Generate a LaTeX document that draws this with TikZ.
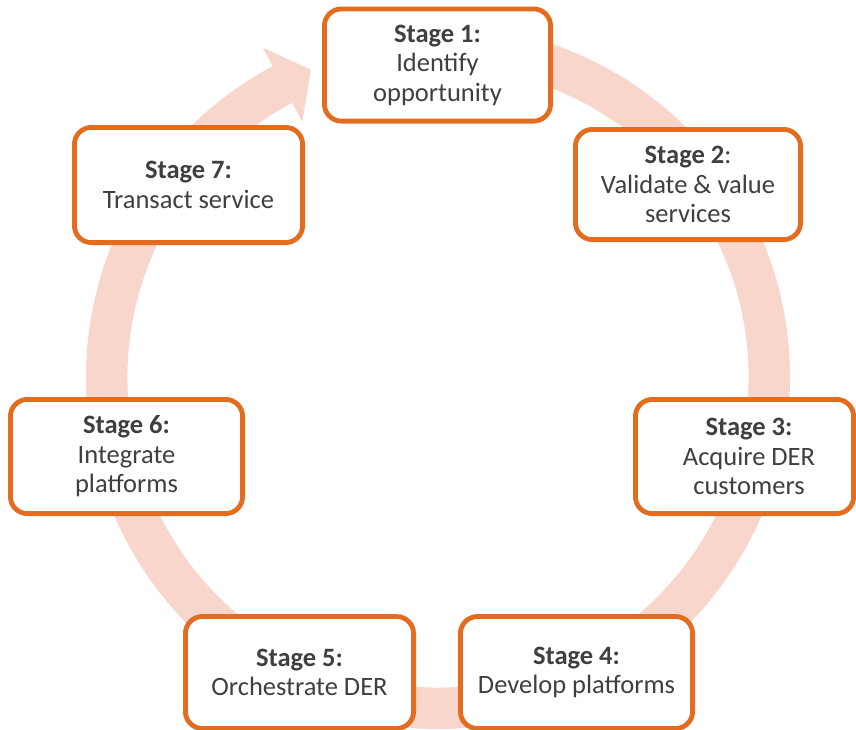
\documentclass[tikz,border=0pt]{standalone}
\usepackage{fontspec}
\setmainfont{Carlito}
\definecolor{ringpink}{HTML}{F9D6CC}
\definecolor{boxorange}{HTML}{E36C1E}
\definecolor{textgray}{HTML}{3F3F3F}
\begin{document}
\begin{tikzpicture}[x=1pt,y=-1pt,
  stagebox/.style={draw=boxorange, line width=4.8pt, fill=white, rounded corners=17pt,
    align=center, text=textgray, font=\fontsize{26.5}{29.5}\selectfont, inner sep=0pt},
  stagetext/.style={align=center, text=textgray, font=\fontsize{26.5}{29.5}\selectfont, inner sep=0pt}
]
\useasboundingbox (0,0) rectangle (856,729);
% circular arrow
\begin{scope}[shift={(438,377)}, y=1pt]
\fill[ringpink] (100:352) arc[start angle=100,end angle=-242,radius=352]
  -- (118:373) -- (-127.1,307.2) -- (118:289) -- (118:310.5)
  arc[start angle=-242,end angle=100,radius=310.5] -- cycle;
\end{scope}
% stages
\node[stagebox, minimum width=226.2pt, minimum height=112.2pt] (s1) at (437.5,65)
  {\textbf{Stage 1:}\\Identify\\opportunity};
\node[stagebox, minimum width=225.2pt, minimum height=110.2pt] (s2) at (688,184.5)
  {\textbf{Stage 2}:\\Validate \& value\\services};
\node[stagebox, minimum width=218.2pt, minimum height=114.2pt] (s3) at (744.5,456.5) {};
\node[stagetext] (s3t) at (749,456.5) {\textbf{Stage 3:}\\Acquire DER\\customers};
\node[stagebox, minimum width=232.2pt, minimum height=112pt] (s4) at (576.5,672.5)
  {\textbf{Stage 4:}\\Develop platforms};
\node[stagebox, minimum width=228.2pt, minimum height=112pt] (s5) at (299.5,672.5)
  {\textbf{Stage 5:}\\Orchestrate DER};
\node[stagebox, minimum width=232.2pt, minimum height=114.2pt] (s6) at (126.5,456.5)
  {\textbf{Stage 6:}\\Integrate\\platforms};
\node[stagebox, minimum width=228.2pt, minimum height=115.2pt] (s7) at (188.5,185)
  {\textbf{Stage 7:}\\Transact service};
\end{tikzpicture}
\end{document}
